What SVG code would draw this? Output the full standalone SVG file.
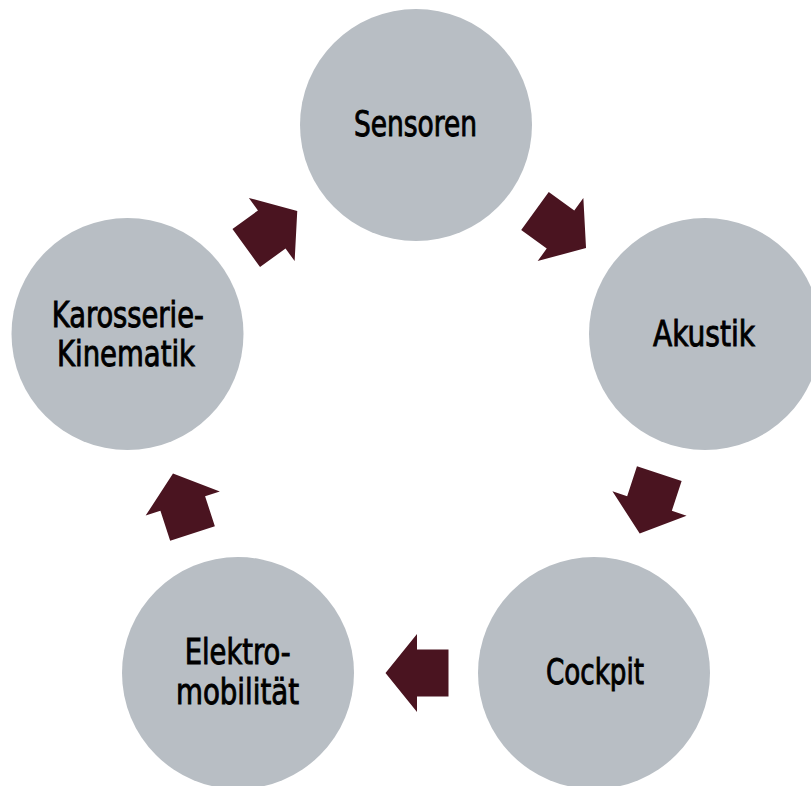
<svg xmlns="http://www.w3.org/2000/svg" width="811" height="786" viewBox="0 0 811 786">
<style>
.node circle{fill:#b8bec4}
.node text{font-family:"DejaVu Sans Condensed","DejaVu Sans",sans-serif;font-stretch:condensed;font-weight:normal;font-size:36px;fill:#000;text-anchor:middle;stroke:#000;stroke-width:0.9px}
.arrow{fill:#4a1420}
</style>
<defs>
<polygon id="arr" points="-31.5,-23.5 0,-23.5 0,-39 31.5,0 0,39 0,23.5 -31.5,23.5"/>
</defs>
<rect width="811" height="786" fill="#fff"/>
<g id="connectors" class="arrow">
<use href="#arr" transform="translate(560.5,229.5) rotate(35.87)"/>
<use href="#arr" transform="translate(649.5,503.5) rotate(108.13)"/>
<use href="#arr" transform="translate(417,673) rotate(180)"/>
<use href="#arr" transform="translate(182.75,503.5) rotate(251.95)"/>
<use href="#arr" transform="translate(271.75,229.5) rotate(-35.92)"/>
</g>
<g id="sensoren" class="node">
<circle cx="416" cy="125" r="116"/>
<text x="415.5" y="136" textLength="123" lengthAdjust="spacingAndGlyphs">Sensoren</text>
</g>
<g id="akustik" class="node">
<circle cx="705" cy="334" r="116"/>
<text x="704" y="346" textLength="102" lengthAdjust="spacingAndGlyphs">Akustik</text>
</g>
<g id="cockpit" class="node">
<circle cx="594" cy="673" r="116"/>
<text x="595" y="684" textLength="98" lengthAdjust="spacingAndGlyphs">Cockpit</text>
</g>
<g id="elektromobilitaet" class="node">
<circle cx="238" cy="673" r="116"/>
<text x="237.7" y="664" textLength="106" lengthAdjust="spacingAndGlyphs">Elektro-</text>
<text x="237.5" y="704" textLength="123" lengthAdjust="spacingAndGlyphs">mobilität</text>
</g>
<g id="karosserie" class="node">
<circle cx="127.5" cy="334" r="116"/>
<text x="127.8" y="326.5" textLength="152" lengthAdjust="spacingAndGlyphs">Karosserie-</text>
<text x="126" y="366" textLength="138" lengthAdjust="spacingAndGlyphs">Kinematik</text>
</g>
</svg>
